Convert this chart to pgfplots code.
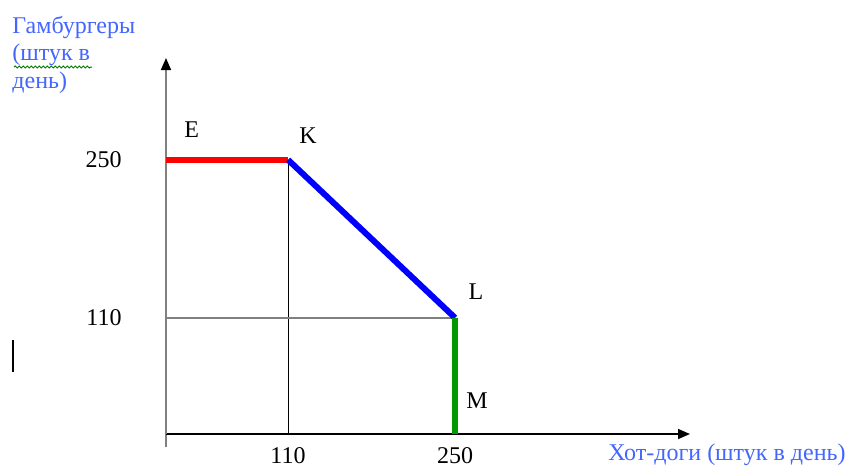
\documentclass[border=0pt]{standalone}
\usepackage{fontspec}
\setmainfont{Liberation Serif}
\usepackage{pgfplots}
\pgfplotsset{compat=1.18}
\usetikzlibrary{arrows.meta,decorations.pathmorphing}
\definecolor{lblBlue}{HTML}{4466FF}
\definecolor{lineGreen}{HTML}{009A00}
\definecolor{axGray}{HTML}{808080}

\begin{document}
\fontsize{12pt}{14pt}\selectfont
\begin{tikzpicture}
\path[use as bounding box] (0,0) rectangle (424pt,234pt);
% y axis runs a little past the x axis
\draw[axGray,line width=0.8pt] (83pt,17pt) -- (83pt,10.5pt);
\begin{axis}[scale only axis,width=262pt,height=188pt,
at={(83pt,17pt)},anchor=south west,
xmin=7.7,xmax=446.9,ymin=7.09,ymax=340.2,
axis lines*=left,clip=false,
x axis line style={black,line width=0.8pt,-{Triangle[length=6pt,width=5pt]}},
y axis line style={axGray,line width=0.8pt,-{Triangle[length=6pt,width=5pt,color=black]}},
xtick={110,250},ytick={110,250},
major tick length=0pt,
tick label style={font=\fontsize{12pt}{14pt}\selectfont},
/pgf/number format/assume math mode=true,
xticklabel style={yshift=-2.5pt},
yticklabel style={xshift=-18pt}]
\addplot[black,line width=0.5pt] coordinates {(110,250) (110,7.09)};
\addplot[axGray,line width=1.1pt] coordinates {(7.7,110) (250,110)};
\addplot[red,line width=3.3pt] coordinates {(7.7,250) (110,250)};
\addplot[blue,line width=3pt] coordinates {(110,250) (250,110)};
\addplot[lineGreen,line width=2.6pt] coordinates {(250,110) (250,7.09)};
\end{axis}
% point labels
\node at (95.8pt,169pt) {E};
\node at (154pt,166pt) {K};
\node at (238pt,88pt) {L};
\node at (238.5pt,33.5pt) {M};
% axis titles
\node[lblBlue,anchor=base west,inner sep=0pt] at (6pt,217.5pt) {Гамбургеры};
\node[lblBlue,anchor=base west,inner sep=0pt] at (6pt,204pt) {(штук в};
\node[lblBlue,anchor=base west,inner sep=0pt] at (6pt,190pt) {день)};
\draw[lineGreen!80!black,line width=0.5pt,decorate,
  decoration={snake,amplitude=0.5pt,segment length=2pt}] (7pt,200.5pt) -- (46pt,200.5pt);
\node[lblBlue,anchor=west,inner sep=0pt] at (304pt,6.5pt) {Хот-доги (штук в день)};
% stray text cursor
\draw[black,line width=1.4pt] (6.5pt,64pt) -- (6.5pt,48pt);
\end{tikzpicture}
\end{document}
